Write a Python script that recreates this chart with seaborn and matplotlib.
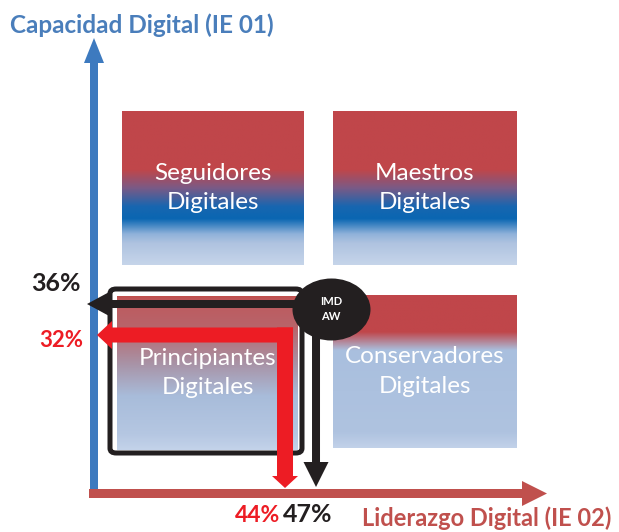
import numpy as np
import matplotlib
matplotlib.use("Agg")
import matplotlib.pyplot as plt
import matplotlib.transforms as mtransforms
from matplotlib.colors import LinearSegmentedColormap
from matplotlib.patches import FancyArrowPatch, FancyBboxPatch
from matplotlib.path import Path
import pandas as pd
import seaborn as sns

# --- data ---
quadrants = ["Seguidores\nDigitales", "Maestros\nDigitales",
             "Principiantes\nDigitales", "Conservadores\nDigitales"]
series = ["IMD AW", "Referencia"]
capacidad = [36, 32]      # IE 01 (%)
liderazgo = [47, 44]      # IE 02 (%)
series_colors = ["#231F20", "#ED1C24"]
x_title = "Liderazgo Digital (IE 02)"
y_title = "Capacidad Digital (IE 01)"

sns.set_theme(style="white")
plt.rcParams["font.family"] = ["Lato", "DejaVu Sans"]

W, H = 619, 532
XLIM = (16.42, 76.32)
YLIM = (6.58, 75.23)
PX = W / (XLIM[1] - XLIM[0])   # pixels per % on x
PY = H / (YLIM[1] - YLIM[0])   # pixels per % on y


def px2x(px):
    return XLIM[0] + px / PX


def py2y(py):
    return YLIM[1] - py / PY


fig = plt.figure(figsize=(W / 100, H / 100), dpi=100)
ax = fig.add_axes([0, 0, 1, 1])
ax.set_xlim(*XLIM)
ax.set_ylim(*YLIM)
ax.axis("off")

# quadrant boxes with vertical gradients
grad_strong = LinearSegmentedColormap.from_list("strong", [
    (0, "#C0464A"), (0.38, "#C0464A"), (0.5, "#7A5A86"), (0.62, "#1866B0"),
    (0.70, "#0A66B2"), (0.80, "#90B2DA"), (0.86, "#AFC3E0"), (1, "#C6D5EA")])
grad_cons = LinearSegmentedColormap.from_list("cons", [
    (0, "#C0464A"), (0.24, "#C0464A"), (0.36, "#A9BFDE"), (0.9, "#AFC3E0"),
    (1, "#C2D2E9")])
grad_princ = LinearSegmentedColormap.from_list("princ", [
    (0, "#C0504D"), (0.03, "#BE5A5E"), (0.2, "#B8646A"), (0.45, "#A895A9"),
    (0.65, "#A8BCDA"), (0.9, "#B5C7E2"), (1, "#C4D3EA")])

boxes = [  # left, top, right, bottom (px), cmap
    (122, 111, 304, 265, grad_strong),
    (333, 111, 517, 265, grad_strong),
    (117, 296, 298, 450, grad_princ),
    (333, 295, 517, 448, grad_cons),
]
g = np.linspace(0, 1, 256).reshape(-1, 1)
for (l, t, r, b, cm), name in zip(boxes, quadrants):
    ax.imshow(g, cmap=cm, aspect="auto", interpolation="bilinear",
              extent=[px2x(l), px2x(r), py2y(b), py2y(t)], zorder=1)
    ax.text(px2x((l + r) / 2), py2y((t + b) / 2), name, color="white",
            fontsize=17.5, ha="center", va="center", linespacing=1.5, zorder=2)

# rounded frame around Principiantes
frame = FancyBboxPatch((px2x(110), py2y(453)), px2x(302) - px2x(110),
                       py2y(289) - py2y(453),
                       boxstyle="round,pad=0,rounding_size=0.6",
                       fc="none", ec="#231F20", lw=3.6, zorder=3)
ax.add_patch(frame)


def arrow(p0, p1, color, tail, hw, hl, z):
    ax.add_patch(FancyArrowPatch(
        p0, p1, arrowstyle=f"simple,head_length={hl},head_width={hw},tail_width={tail}",
        mutation_scale=0.72, color=color, lw=0, shrinkA=0, shrinkB=0, zorder=z))


# axes arrows
ax0, ay0 = px2x(94), py2y(493.5)
arrow((ax0, py2y(489)), (ax0, py2y(38)), "#3D7ABF", 8, 20, 25, 4)
arrow((px2x(89), ay0), (px2x(547), ay0), "#C0504D", 9, 25, 25, 4)

ax.text(px2x(10), py2y(25), y_title, color="#4A7EBB", fontsize=17.5,
        fontweight="bold", ha="left", va="center")
ax.text(px2x(362), py2y(518), x_title, color="#C0504D", fontsize=17,
        fontweight="bold", ha="left", va="center")

# black arrows (IMD AW)
xb, yb = liderazgo[0], capacidad[0]
arrow((xb, yb), (px2x(87), yb), series_colors[0], 8, 27, 25, 5)
arrow((xb, yb), (xb, py2y(487)), series_colors[0], 8, 25, 25, 5)

# red arrows
xr, yr = liderazgo[1], capacidad[1]
arrow((xr + 8 / PX, yr), (px2x(97), yr), series_colors[1], 15, 28, 15, 6)
arrow((xr, yr + 7.5 / PY), (xr, py2y(488)), series_colors[1], 16, 26, 12, 6)

# IMD AW ellipse marker
df = pd.DataFrame({"liderazgo": liderazgo[:1], "capacidad": capacidad[:1]})
ell = Path.unit_circle().transformed(mtransforms.Affine2D().scale(1, 62 / 78))
sns.scatterplot(data=df, x="liderazgo", y="capacidad", marker=ell, s=3154,
                color=series_colors[0], linewidth=0, ax=ax, zorder=7, legend=False)
off = mtransforms.ScaledTranslation(0.15, -0.05, fig.dpi_scale_trans)
ax.collections[-1].set_offset_transform(ax.transData + off)
ax.text(xb, yb, "IMD\nAW", color="white", fontsize=8, fontweight="bold",
        ha="center", va="center", linespacing=1.35, zorder=8,
        transform=ax.transData + off)

# value labels
ax.text(px2x(81), yb + 21 / PY, f"{capacidad[0]}%", color=series_colors[0],
        fontsize=18, fontweight="bold", ha="right", va="center")
ax.text(px2x(83), yr - 5 / PY, f"{capacidad[1]}%", color=series_colors[1],
        fontsize=16, fontweight="bold", ha="right", va="center")
ax.text(px2x(280), py2y(515), f"{liderazgo[1]}%", color=series_colors[1],
        fontsize=16.5, fontweight="bold", ha="right", va="center")
ax.text(px2x(283), py2y(515), f"{liderazgo[0]}%", color=series_colors[0],
        fontsize=18, fontweight="bold", ha="left", va="center")

ax.set_xlim(*XLIM)
ax.set_ylim(*YLIM)
fig.savefig("out.png", dpi=100)
